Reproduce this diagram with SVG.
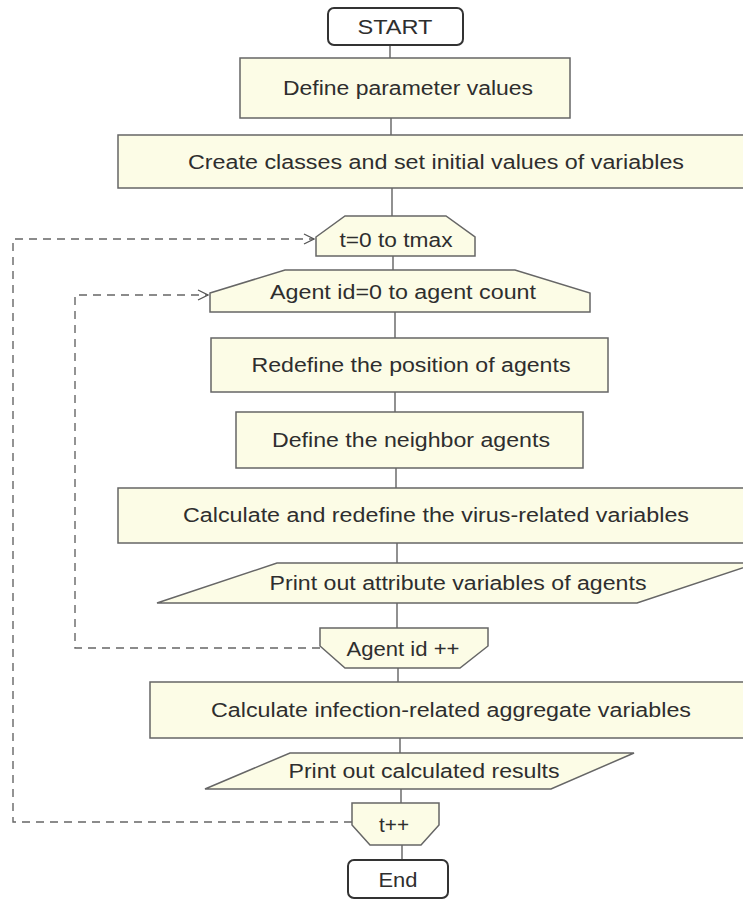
<svg xmlns="http://www.w3.org/2000/svg" width="743" height="900" viewBox="0 0 743 900">
<style>
.box{fill:#fcfce6;stroke:#666;stroke-width:1.5}
.term{fill:#fff;stroke:#333;stroke-width:2}
.t{font-family:"Liberation Sans",Arial,sans-serif;font-size:20px;fill:#2e2e2e;text-anchor:middle}
.ln{stroke:#555;stroke-width:1.3;fill:none}
.dash{stroke:#666;stroke-width:1.4;fill:none;stroke-dasharray:8 6}
</style>
<defs>
<marker id="chev" markerWidth="12" markerHeight="12" refX="11" refY="6" orient="auto" markerUnits="userSpaceOnUse">
<path d="M1,1 L11,6 L1,11" fill="none" stroke="#555" stroke-width="1.3"/>
</marker>
</defs>
<rect width="743" height="900" fill="#fff"/>
<g id="connectors">
<line class="ln" x1="390" y1="45" x2="390" y2="58"/>
<line class="ln" x1="391" y1="118" x2="391" y2="135"/>
<line class="ln" x1="392" y1="188" x2="392" y2="216"/>
<line class="ln" x1="393" y1="256" x2="393" y2="270"/>
<line class="ln" x1="395" y1="312" x2="395" y2="338"/>
<line class="ln" x1="395" y1="392" x2="395" y2="412"/>
<line class="ln" x1="396" y1="468" x2="396" y2="488"/>
<line class="ln" x1="397" y1="543" x2="397" y2="563"/>
<line class="ln" x1="397" y1="603" x2="397" y2="628"/>
<line class="ln" x1="398" y1="668" x2="398" y2="682"/>
<line class="ln" x1="400" y1="738" x2="400" y2="753"/>
<line class="ln" x1="401" y1="789" x2="401" y2="803"/>
<line class="ln" x1="402" y1="845" x2="402" y2="860"/>
<path class="dash" d="M320,648 L75,648 L75,295 L208,295" marker-end="url(#chev)"/>
<path class="dash" d="M352,822 L13,822 L13,239 L314,239" marker-end="url(#chev)"/>
</g>
<g id="start">
<rect class="term" x="328" y="8" width="135" height="37" rx="6"/>
<text class="t" x="395" y="34" textLength="75" lengthAdjust="spacingAndGlyphs">START</text>
</g>
<g id="define-params">
<rect class="box" x="240" y="58" width="330" height="60"/>
<text class="t" x="408" y="95" textLength="250" lengthAdjust="spacingAndGlyphs">Define parameter values</text>
</g>
<g id="create-classes">
<rect class="box" x="118" y="135" width="640" height="53"/>
<text class="t" x="436" y="169" textLength="496" lengthAdjust="spacingAndGlyphs">Create classes and set initial values of variables</text>
</g>
<g id="t-loop">
<path class="box" d="M316,237 L345,216 L446,216 L475,237 L475,256 L316,256 Z"/>
<text class="t" x="396" y="247" textLength="113" lengthAdjust="spacingAndGlyphs">t=0 to tmax</text>
</g>
<g id="agent-loop">
<path class="box" d="M210,293 L285,270 L515,270 L590,293 L590,312 L210,312 Z"/>
<text class="t" x="403" y="299" textLength="266" lengthAdjust="spacingAndGlyphs">Agent id=0 to agent count</text>
</g>
<g id="redefine-position">
<rect class="box" x="211" y="338" width="397" height="54"/>
<text class="t" x="411" y="372" textLength="319" lengthAdjust="spacingAndGlyphs">Redefine the position of agents</text>
</g>
<g id="define-neighbor">
<rect class="box" x="236" y="412" width="347" height="56"/>
<text class="t" x="411" y="447" textLength="278" lengthAdjust="spacingAndGlyphs">Define the neighbor agents</text>
</g>
<g id="calc-virus">
<rect class="box" x="118" y="488" width="640" height="55"/>
<text class="t" x="436" y="522" textLength="506" lengthAdjust="spacingAndGlyphs">Calculate and redefine the virus-related variables</text>
</g>
<g id="print-attributes">
<path class="box" d="M277,563 L757,563 L637,603 L157,603 Z"/>
<text class="t" x="458" y="590" textLength="377" lengthAdjust="spacingAndGlyphs">Print out attribute variables of agents</text>
</g>
<g id="agent-inc">
<path class="box" d="M320,628 L488,628 L488,646 L460,668 L345,668 L320,646 Z"/>
<text class="t" x="403" y="656" textLength="113" lengthAdjust="spacingAndGlyphs">Agent id ++</text>
</g>
<g id="calc-infection">
<rect class="box" x="150" y="682" width="608" height="56"/>
<text class="t" x="451" y="717" textLength="480" lengthAdjust="spacingAndGlyphs">Calculate infection-related aggregate variables</text>
</g>
<g id="print-results">
<path class="box" d="M290,753 L634,753 L551,789 L205,789 Z"/>
<text class="t" x="424" y="778" textLength="271" lengthAdjust="spacingAndGlyphs">Print out calculated results</text>
</g>
<g id="t-inc">
<path class="box" d="M352,803 L439,803 L439,825 L421,845 L370,845 L352,825 Z"/>
<text class="t" x="394" y="832" textLength="30" lengthAdjust="spacingAndGlyphs">t++</text>
</g>
<g id="end">
<rect class="term" x="348" y="860" width="100" height="38" rx="6"/>
<text class="t" x="398" y="887" textLength="39" lengthAdjust="spacingAndGlyphs">End</text>
</g>
</svg>
